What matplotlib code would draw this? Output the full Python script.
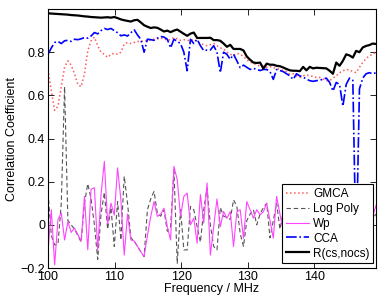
import numpy as np
import matplotlib
matplotlib.use("Agg")
import matplotlib.pyplot as plt

plt.rcParams['font.family'] = ['Liberation Sans', 'DejaVu Sans']

# frequency channels (MHz)
freq = 100 + 0.498 * np.arange(100)

gmca = [0.72, 0.62, 0.53, 0.55, 0.64, 0.73, 0.76, 0.74, 0.70, 0.65,
        0.64, 0.70, 0.806, 0.853, 0.87, 0.83, 0.80, 0.79, 0.776, 0.79,
        0.795, 0.79, 0.80, 0.837, 0.845, 0.84, 0.845, 0.85, 0.848, 0.855,
        0.852, 0.858, 0.86, 0.862, 0.865, 0.862, 0.855, 0.858, 0.868, 0.862,
        0.855, 0.858, 0.855, 0.853, 0.86, 0.848, 0.84, 0.835, 0.83, 0.835,
        0.84, 0.83, 0.82, 0.815, 0.80, 0.79, 0.784, 0.795, 0.79, 0.78,
        0.765, 0.753, 0.75, 0.74, 0.737, 0.735, 0.73, 0.733, 0.728, 0.725,
        0.72, 0.715, 0.71, 0.698, 0.70, 0.69, 0.683, 0.69, 0.695, 0.69,
        0.688, 0.683, 0.683, 0.675, 0.668, 0.668, 0.68, 0.69, 0.705, 0.714,
        0.72, 0.718, 0.71, 0.705, 0.73, 0.753, 0.77, 0.784, 0.79, 0.80]

logpoly = [0.15, -0.05, -0.093, -0.09, 0.10, 0.64, 0.02, 0.0, -0.02, -0.05,
           -0.08, 0.10, 0.19, 0.12, 0.0, -0.16, 0.05, 0.15, -0.02, 0.08,
           -0.10, 0.108, -0.07, 0.225, 0.10, -0.06, -0.075, -0.10, -0.125, -0.147,
           0.07, 0.12, 0.155, 0.054, 0.04, 0.07, -0.03, -0.01, 0.256, -0.178,
           0.07, -0.116, -0.116, 0.085, 0.07, -0.008, -0.08, 0.07, 0.17, 0.0,
           -0.10, -0.116, 0.08, 0.04, 0.035, 0.025, 0.116, 0.085, -0.04, -0.10,
           0.02, 0.05, 0.07, 0.0, 0.05, 0.08, 0.10, -0.06, 0.02, 0.10,
           -0.02, 0.06, 0.03, -0.05, 0.07, 0.01, -0.03, 0.09, 0.04, -0.06,
           0.02, 0.08, -0.01, 0.05, -0.04, 0.03, 0.10, 0.0, -0.05, 0.06,
           0.02, -0.02, 0.07, 0.03, -0.04, 0.05, 0.01, 0.04, 0.03, 0.05]

wp = [-0.12, 0.07, -0.186, 0.025, 0.055, -0.07, 0.015, -0.035, -0.015, -0.045,
      -0.075, 0.132, -0.116, 0.165, 0.172, -0.116, 0.14, 0.294, 0.005, 0.10,
      0.045, 0.264, 0.116, -0.14, 0.05, -0.07, -0.075, -0.10, -0.125, -0.147,
      -0.05, 0.039, 0.108, 0.039, 0.05, 0.077, -0.008, -0.07, 0.271, 0.209,
      0.039, 0.132, 0.147, 0.0, 0.031, -0.085, 0.14, 0.008, 0.194, -0.14,
      -0.01, 0.12, -0.008, 0.062, 0.03, 0.062, -0.10, 0.06, 0.07, -0.062,
      0.108, 0.07, 0.031, 0.07, 0.047, 0.06, 0.10, 0.02, -0.062, 0.132,
      0.05, -0.03, 0.08, 0.0, -0.06, 0.04, 0.10, -0.02, 0.03, -0.08,
      0.06, 0.02, -0.04, 0.09, 0.0, -0.05, 0.05, 0.07, -0.02, 0.03,
      -0.06, 0.04, 0.08, 0.0, -0.03, 0.05, 0.02, 0.06, 0.04, 0.09]

cca = [0.79, 0.82, 0.845, 0.85, 0.84, 0.853, 0.855, 0.85, 0.86, 0.858,
       0.862, 0.868, 0.865, 0.875, 0.891, 0.885, 0.90, 0.91, 0.905, 0.91,
       0.90, 0.89, 0.876, 0.88, 0.875, 0.89, 0.904, 0.88, 0.86, 0.80,
       0.86, 0.858, 0.855, 0.865, 0.873, 0.87, 0.86, 0.82, 0.86, 0.85,
       0.84, 0.80, 0.714, 0.86, 0.84, 0.86, 0.83, 0.807, 0.81, 0.81,
       0.83, 0.80, 0.705, 0.80, 0.79, 0.767, 0.79, 0.76, 0.728, 0.74,
       0.73, 0.72, 0.725, 0.72, 0.715, 0.72, 0.72, 0.71, 0.674, 0.72,
       0.715, 0.71, 0.70, 0.69, 0.674, 0.70, 0.69, 0.685, 0.675, 0.668,
       0.665, 0.668, 0.67, 0.675, 0.68, 0.66, 0.62, 0.66, 0.65, 0.55,
       0.651, 0.68, 0.67, -0.15, 0.63, 0.68, 0.70, 0.705, 0.70, 0.705]

r_cs_nocs = [0.980, 0.979, 0.978, 0.977, 0.976, 0.975, 0.974, 0.972, 0.971, 0.970,
             0.968, 0.966, 0.965, 0.963, 0.962, 0.961, 0.960, 0.961, 0.962, 0.960,
             0.963, 0.958, 0.952, 0.948, 0.945, 0.942, 0.948, 0.950, 0.938, 0.925,
             0.918, 0.912, 0.915, 0.913, 0.905, 0.896, 0.900, 0.893, 0.900, 0.905,
             0.895, 0.885, 0.876, 0.886, 0.891, 0.866, 0.866, 0.866, 0.866, 0.867,
             0.856, 0.856, 0.853, 0.840, 0.825, 0.834, 0.815, 0.815, 0.815, 0.808,
             0.780, 0.765, 0.752, 0.750, 0.752, 0.724, 0.747, 0.742, 0.742, 0.737,
             0.735, 0.729, 0.722, 0.716, 0.714, 0.714, 0.712, 0.732, 0.716, 0.732,
             0.725, 0.728, 0.727, 0.726, 0.725, 0.714, 0.700, 0.752, 0.737, 0.760,
             0.790, 0.785, 0.775, 0.806, 0.800, 0.822, 0.829, 0.833, 0.840, 0.838]

fig = plt.figure(figsize=(3.82, 3.01), dpi=100)
ax = fig.add_axes([0.1257, 0.1096, 0.8586, 0.8604])

ax.plot(freq, gmca, ':', color='#ff5a5a', lw=1.1, label='GMCA')
ax.plot(freq, logpoly, '--', color='#555555', lw=0.8, dashes=(4, 2.5), label='Log Poly')
ax.plot(freq, wp, '-', color='#ff44ff', lw=0.8, label='Wp')
ax.plot(freq, cca, '-.', color='#0000ff', lw=1.2, label='CCA')
ax.plot(freq, r_cs_nocs, '-', color='black', lw=1.6, label='R(cs,nocs)')

ax.set_xlim(100, 149.3)
ax.set_ylim(-0.2, 1.0)
ax.set_xticks([100, 110, 120, 130, 140])
ax.set_yticks([-0.2, 0, 0.2, 0.4, 0.6, 0.8])
ax.set_yticklabels(['\u22120.2', '0', '0.2', '0.4', '0.6', '0.8'])
ax.tick_params(direction='in', top=True, right=True, length=4, width=0.6, labelsize=9, pad=2)
for s in ax.spines.values():
    s.set_linewidth(0.8)

ax.set_xlabel('Frequency / MHz', fontsize=9, labelpad=0)
ax.set_ylabel('Correlation Coefficient', fontsize=9, labelpad=2)

leg = ax.legend(loc='lower right', bbox_to_anchor=(0.991, 0.019), borderaxespad=0,
                fontsize=8.5, fancybox=False, framealpha=1, edgecolor='black',
                handlelength=2.0, handletextpad=0.3, labelspacing=0.25, borderpad=0.3)
leg.get_frame().set_linewidth(0.8)

fig.savefig('out.png', dpi=100)
